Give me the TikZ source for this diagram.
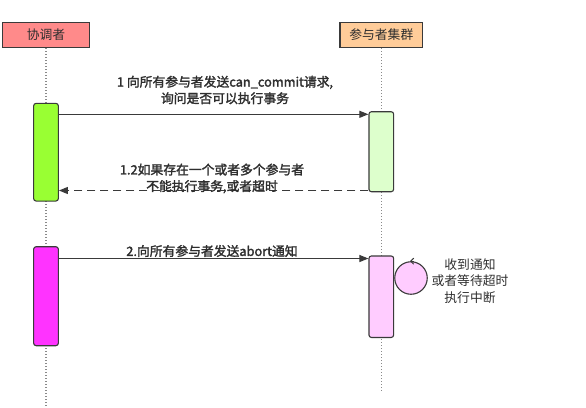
\documentclass[tikz,border=0pt]{standalone}
\usepackage{fontspec}
\usepackage{xcolor}
\usepackage{tikz}
\usetikzlibrary{arrows.meta,positioning}
\newfontfamily\cjkfont{Noto Sans CJK SC}
\newfontfamily\cjkboldfont[FakeBold=2]{Noto Sans CJK SC}
\definecolor{seqink}{HTML}{2E2E2E}
\definecolor{seqline}{HTML}{3A3A3A}
\definecolor{seqdots}{HTML}{8A8A8A}
\definecolor{seqred}{HTML}{FF8A8A}
\definecolor{seqorange}{HTML}{FFCC99}
\definecolor{seqgreen}{HTML}{99FF33}
\definecolor{seqpale}{HTML}{DDFFCC}
\definecolor{seqmagenta}{HTML}{FF33FF}
\definecolor{seqpink}{HTML}{FFCCFF}
\tikzset{
  seqpicture/.style={x=1bp, y=-1bp, font=\cjkfont\fontsize{12.8bp}{16.8bp}\selectfont, text=seqink},
  seqhead/.style={draw=seqline, line width=1.4bp, minimum height=24.6bp, inner sep=0pt},
  seqlife/.style={draw=seqdots, line width=1.3bp, dash pattern=on 1.3bp off 1.7bp},
  seqbar/.style={draw=seqline, line width=1.1bp, rounded corners=2.5bp, minimum width=24.7bp, inner sep=0pt},
  seqcall/.style={-{Triangle[length=9bp, width=7bp]}, draw=seqline, line width=1.1bp},
  seqreply/.style={seqcall, dash pattern=on 8bp off 5bp},
  seqlabel/.style={align=center, font=\cjkboldfont\fontsize{12.8bp}{16.5bp}\selectfont},
  seqnote/.style={align=center}
}
\begin{document}
\begin{tikzpicture}[seqpicture]
\useasboundingbox (0,0) rectangle (586,407);
\node[seqhead, fill=seqred, minimum width=86.6bp] (coord) at (46,35) {协调者};
\node[seqhead, fill=seqorange, minimum width=82.7bp] (group) at (381.3,35) {参与者集群};
\coordinate (coordend) at (46,407);
\coordinate (groupend) at (381.3,392);
\draw[seqlife] (coord) -- (coordend);
\draw[seqlife] (group) -- (groupend);
\node[seqbar, fill=seqgreen, minimum height=97.7bp] (ask) at (46,152.2) {};
\node[seqbar, fill=seqpale, minimum height=80bp] (vote) at (381.3,151.7) {};
\node[seqbar, fill=seqmagenta, minimum height=99bp] (abort) at (46,296.2) {};
\node[seqbar, fill=seqpink, minimum height=81.5bp] (halt) at (381.3,296.7) {};
\coordinate (looprow) at (0,278);
\node[draw=seqline, line width=1.1bp, circle, fill=seqpink, minimum size=32.5bp, inner sep=0pt, anchor=west] (loop) at (halt.east |- looprow) {};
\coordinate (msgone) at (0,114.3);
\coordinate (msgtwo) at (0,190.5);
\coordinate (msgthree) at (0,258.5);
\draw[seqcall] (ask.east |- msgone) -- (vote.west |- msgone);
\draw[seqreply] (vote.west |- msgtwo) -- (ask.east |- msgtwo);
\draw[seqcall] (abort.east |- msgthree) -- (halt.west |- msgthree);
\draw[draw=seqline, line width=1bp, -{Straight Barb[length=3bp, width=6bp]}] ([xshift=2.5bp]loop.north) -- ([xshift=-1bp]loop.north);
\node[seqlabel] (asklabel) at (225,90) {1 向所有参与者发送can\_commit请求,\\询问是否可以执行事务};
\node[seqlabel] (votelabel) at (212,178.5) {1.2如果存在一个或者多个参与者\\不能执行事务,或者超时};
\node[seqlabel] (abortlabel) at (212,251) {2.向所有参与者发送abort通知};
\node[seqnote] (haltnote) at (470,281) {收到通知\\或者等待超时\\执行中断};
\end{tikzpicture}
\end{document}
